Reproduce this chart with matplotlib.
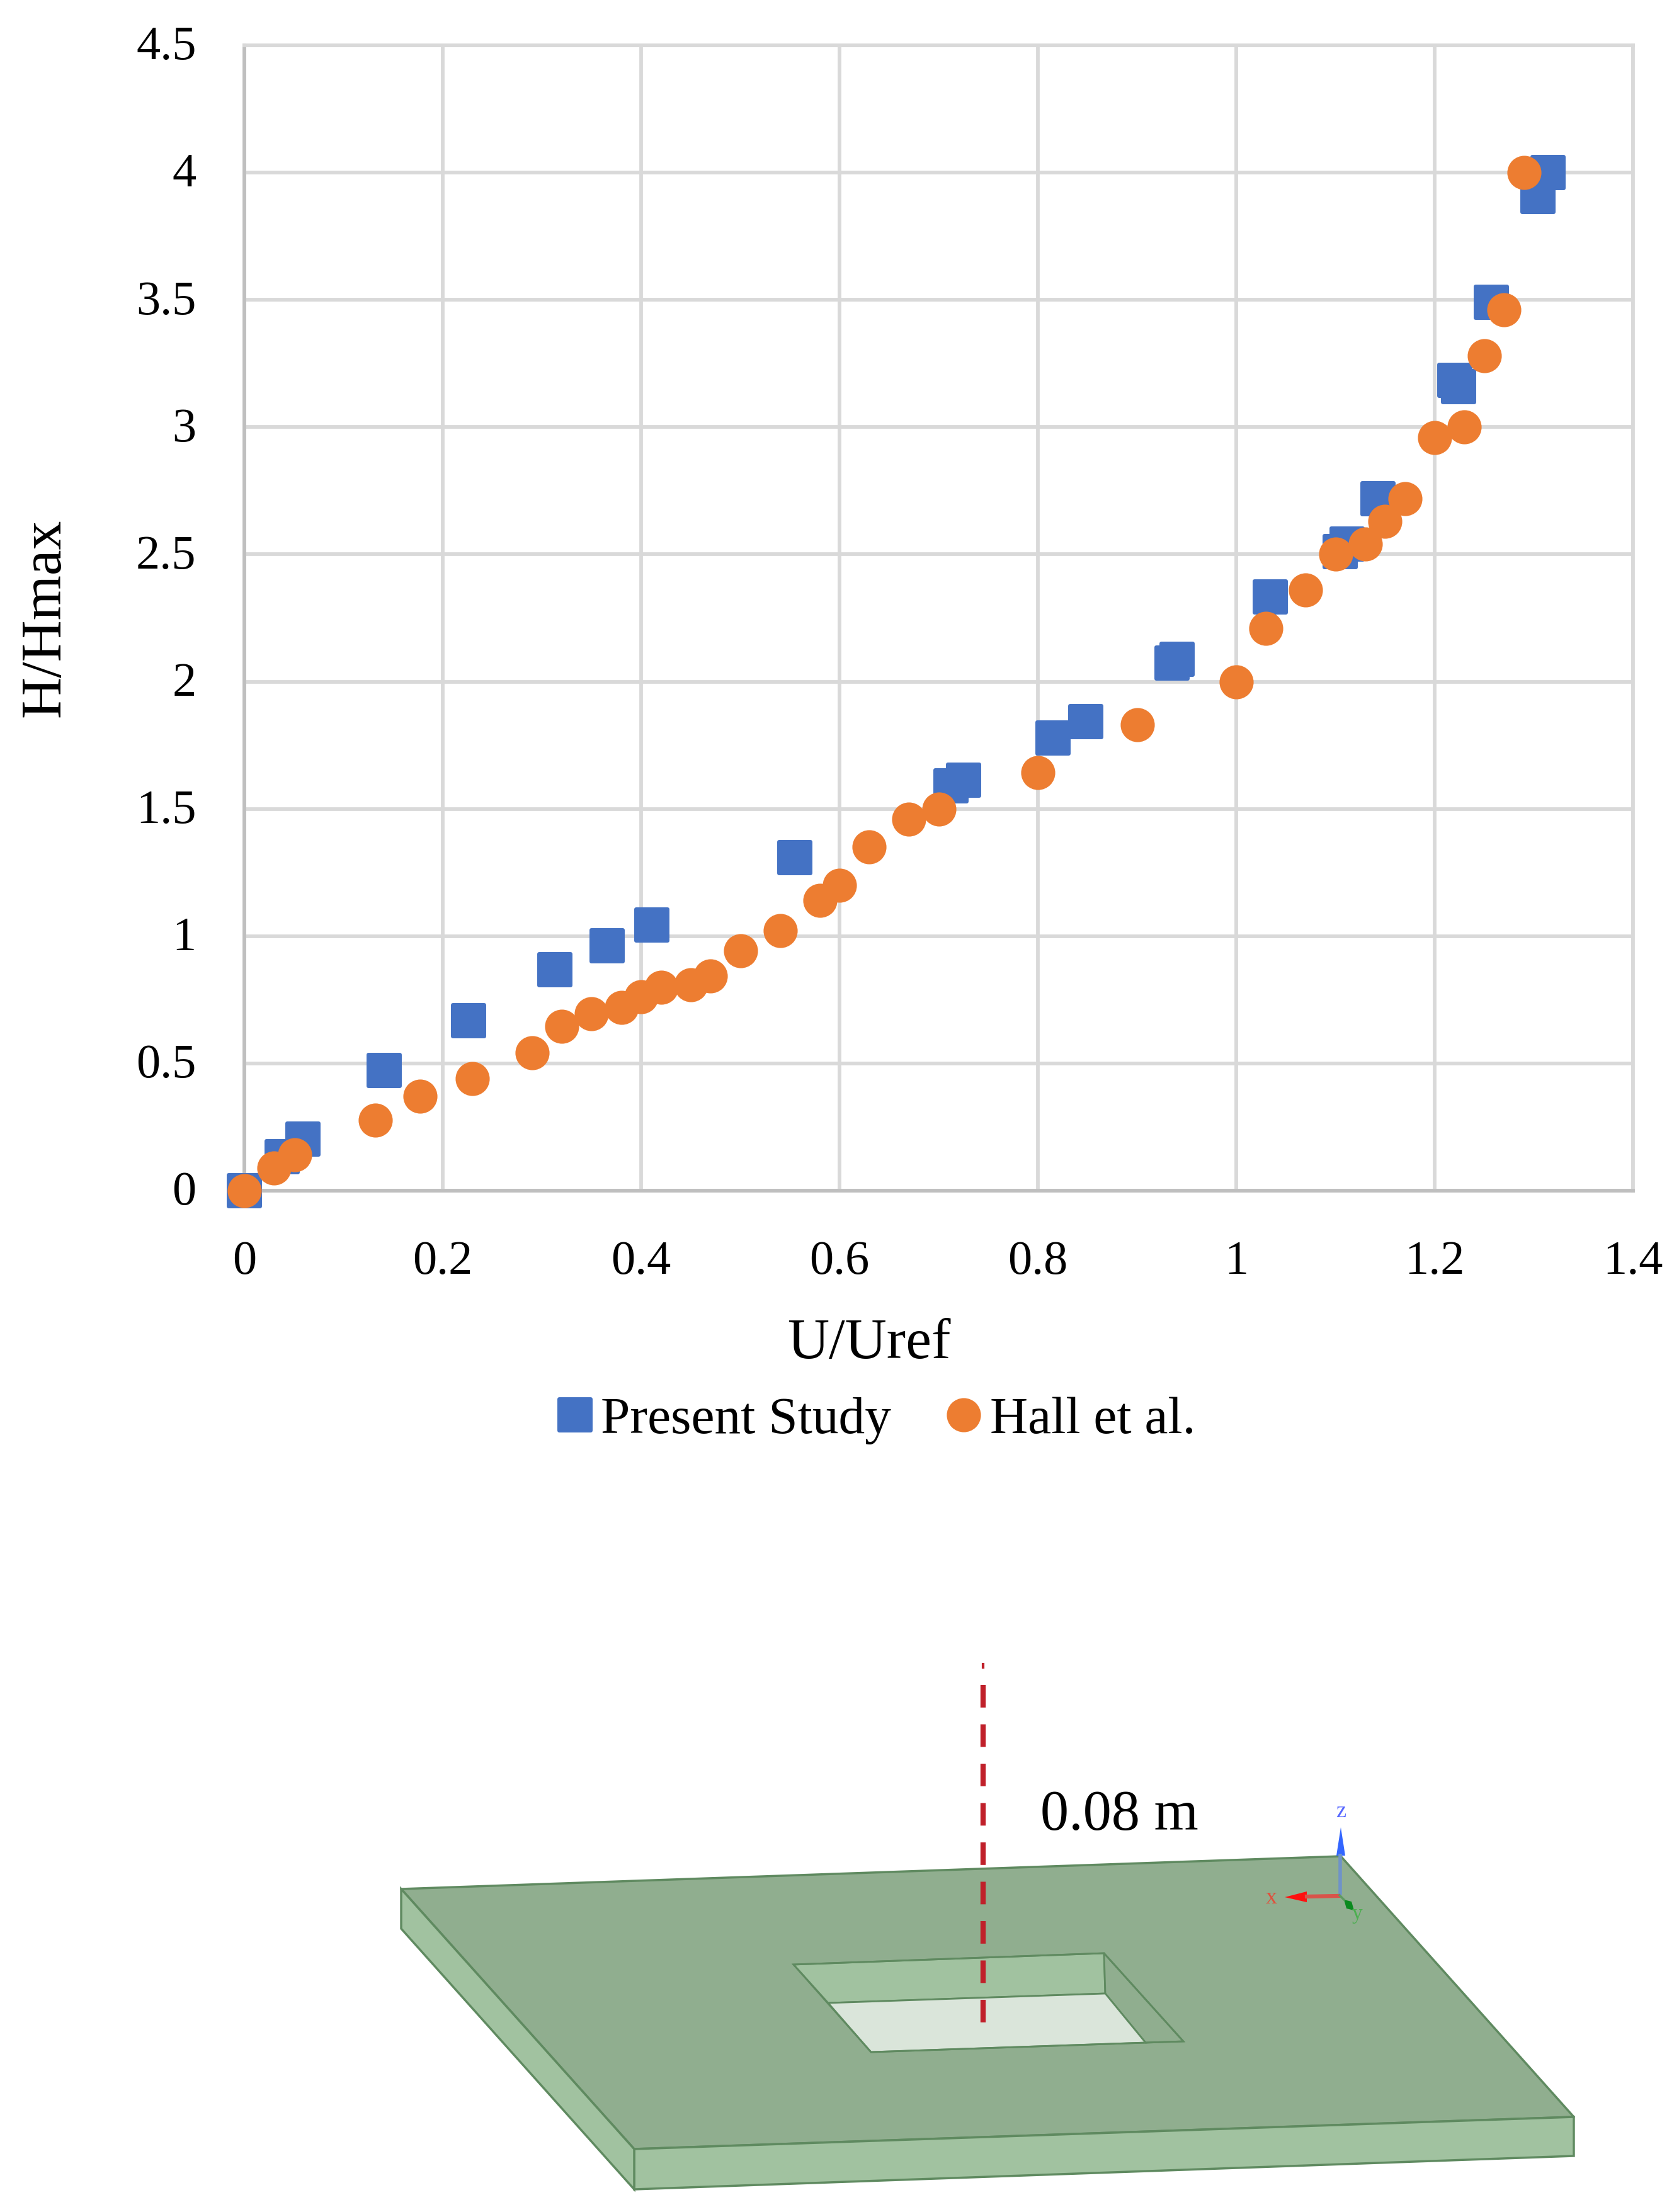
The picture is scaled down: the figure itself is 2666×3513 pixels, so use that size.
import matplotlib
matplotlib.use("Agg")
import matplotlib.pyplot as plt
from matplotlib.markers import MarkerStyle
from matplotlib.patches import Polygon
from matplotlib.transforms import ScaledTranslation

# Present Study
present_u = [0, 0.038, 0.059, 0.141, 0.226, 0.313, 0.366, 0.411, 0.555, 0.7125, 0.725, 0.815, 0.848,
             0.935, 0.94, 1.034, 1.105, 1.112, 1.143, 1.22, 1.224, 1.257, 1.304, 1.314]
present_h = [0, 0.134, 0.203, 0.473, 0.667, 0.868, 0.962, 1.044, 1.308, 1.59, 1.614, 1.778, 1.842,
             2.074, 2.087, 2.334, 2.51, 2.54, 2.72, 3.185, 3.16, 3.49, 3.906, 4.0]

# Hall et al.
hall_u = [0, 0.03, 0.051, 0.132, 0.177, 0.23, 0.29, 0.32, 0.35, 0.38, 0.40, 0.42, 0.45, 0.47, 0.50, 0.54,
          0.58, 0.60, 0.63, 0.67, 0.70, 0.80, 0.90, 1.00, 1.03, 1.07, 1.10, 1.13, 1.15, 1.17, 1.20, 1.23,
          1.25, 1.27, 1.29]
hall_h = [0, 0.09, 0.14, 0.276, 0.372, 0.44, 0.541, 0.645, 0.694, 0.72, 0.763, 0.80, 0.81, 0.844, 0.942, 1.022,
          1.14, 1.20, 1.35, 1.46, 1.50, 1.642, 1.831, 2.0, 2.21, 2.36, 2.5, 2.54, 2.63, 2.72, 2.96, 3.0,
          3.28, 3.46, 4.0]

x_ticks = [0, 0.2, 0.4, 0.6, 0.8, 1, 1.2, 1.4]
x_tick_labels = ["0", "0.2", "0.4", "0.6", "0.8", "1", "1.2", "1.4"]
y_ticks = [0, 0.5, 1, 1.5, 2, 2.5, 3, 3.5, 4, 4.5]
y_tick_labels = ["0", "0.5", "1", "1.5", "2", "2.5", "3", "3.5", "4", "4.5"]

# Sketch of the plate below the chart, in picture pixels
plate_top = [(637, 3000), (2129, 2948), (2499, 3362), (1007, 3413)]
plate_front = [(1007, 3413), (2499, 3362), (2499, 3424), (1007, 3477)]
plate_left = [(637, 3000), (1007, 3413), (1007, 3477), (637, 3063)]
hole_back = [(1260, 3120), (1753, 3102), (1755, 3166), (1315, 3181)]
hole_right = [(1753, 3102), (1879, 3242), (1819, 3244), (1755, 3166)]
hole_floor = [(1315, 3181), (1755, 3166), (1819, 3244), (1383, 3259)]
hole_rim = [(1260, 3120), (1753, 3102), (1879, 3242), (1383, 3259)]
z_head = [(2129, 2902), (2122, 2947), (2136, 2947)]
x_head = [(2040, 3013), (2075, 3004), (2075, 3021)]
y_head = [(2134, 3017), (2146, 3020), (2150, 3034), (2138, 3031)]

W, H = 2666, 3513
SERIF = "Liberation Serif"
BLUE = "#4472C4"
ORANGE = "#ED7D31"
GRID = "#D9D9D9"
AXIS = "#BFBFBF"
EDGE = "#5F8A60"

fig = plt.figure(figsize=(W / 100, H / 100), dpi=100, facecolor="white")

# sketch
sk = fig.add_axes([0, 0, 1, 1])
sk.set_xlim(0, W)
sk.set_ylim(H, 0)
sk.axis("off")

sk.add_patch(Polygon(plate_top, fc="#90AE8F", ec=EDGE, lw=2.5, joinstyle="round"))
sk.add_patch(Polygon(plate_front, fc="#A1C2A0", ec=EDGE, lw=2.5))
sk.add_patch(Polygon(plate_left, fc="#A1C2A0", ec=EDGE, lw=2.5))
sk.add_patch(Polygon(hole_back, fc="#A1C2A0", ec=EDGE, lw=2))
sk.add_patch(Polygon(hole_right, fc="#90AE8F", ec=EDGE, lw=2))
sk.add_patch(Polygon(hole_floor, fc="#DAE5DA", ec=EDGE, lw=2))
sk.add_patch(Polygon(hole_rim, fc="none", ec=EDGE, lw=2))

sk.plot([1561, 1561], [2676, 3217], color="#C0202A", lw=6, dashes=(4.3, 3.2), dash_capstyle="butt")
sk.plot([1561, 1561], [2643, 2648], color="#C0202A", lw=3)
sk.text(1777, 2884, "0.08 m", family=SERIF, fontsize=65, ha="center", va="center", color="black")

# axis triad
sk.plot([2128, 2128], [3007, 2947], color="#6F93C8", lw=4)
sk.add_patch(Polygon(z_head, fc="#3366FF", ec="none"))
sk.plot([2125, 2075], [3011, 3012], color="#D9534A", lw=4.5)
sk.add_patch(Polygon(x_head, fc="#FF1010", ec="none"))
sk.plot([2127, 2134], [3010, 3017], color="#5F9A60", lw=2.5)
sk.add_patch(Polygon(y_head, fc="#0A8A1E", ec="none"))
sk.text(2130, 2877, "z", family=SERIF, fontsize=26, color="#5566FF", ha="center", va="center")
sk.text(2019, 3014, "x", family=SERIF, fontsize=26, color="#E0503C", ha="center", va="center")
sk.text(2155, 3040, "y", family=SERIF, fontsize=24, color="#4CAF50", ha="center", va="center")

# chart
ax = fig.add_axes([388 / W, 1 - 1891 / H, 2205 / W, 1819 / H], facecolor="none")
square = MarkerStyle("s", joinstyle="round")
ax.plot(present_u, present_h, ls="none", marker=square, ms=36, mew=4.3, mfc=BLUE, mec=BLUE,
        clip_on=False, zorder=5, label="Present Study")
ax.plot(hall_u, hall_h, ls="none", marker="o", ms=39, mew=0, mfc=ORANGE,
        clip_on=False, zorder=6, label="Hall et al.")

ax.set_xlim(0, 1.4)
ax.set_ylim(0, 4.5)
ax.set_xticks(x_ticks)
ax.set_xticklabels(x_tick_labels)
ax.set_yticks(y_ticks)
ax.set_yticklabels(y_tick_labels)
ax.tick_params(axis="both", length=0, labelsize=55, labelfontfamily=SERIF)
ax.tick_params(axis="x", pad=57)
ax.tick_params(axis="y", pad=55)
# labels sit a little above their grid line
for label in ax.get_yticklabels():
    label.set_transform(label.get_transform() + ScaledTranslation(0, 3 / 72, fig.dpi_scale_trans))
ax.grid(True, color=GRID, lw=4.2)
ax.set_axisbelow(True)
for side in ["top", "right"]:
    ax.spines[side].set_color(GRID)
    ax.spines[side].set_linewidth(4.2)
for side in ["left", "bottom"]:
    ax.spines[side].set_color(AXIS)
    ax.spines[side].set_linewidth(4.2)

ax.set_xlabel("U/Uref", family=SERIF, fontsize=66)
ax.xaxis.set_label_coords(992 / 2205, -203 / 1819)
ax.set_ylabel("H/Hmax", family=SERIF, fontsize=66)
ax.yaxis.set_label_coords(-275 / 2205, 0.5)

handles, labels = ax.get_legend_handles_labels()
fig.legend(handles, labels, ncol=2, loc="center", bbox_to_anchor=(1393 / W, 1 - 2256 / H), frameon=False,
           prop={"family": SERIF, "size": 60}, handlelength=0.6, handletextpad=0.2, columnspacing=1.08,
           numpoints=1, borderpad=0, borderaxespad=0)

fig.savefig("out.png", dpi=100)
